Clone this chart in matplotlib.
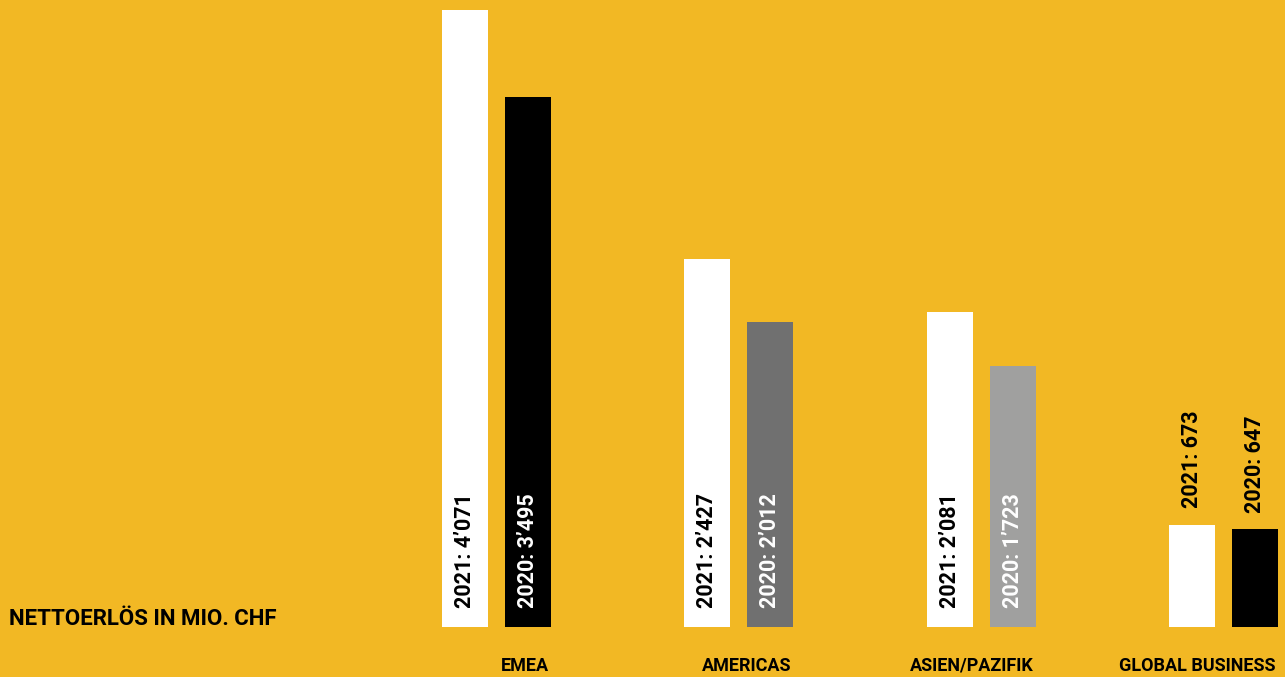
import matplotlib
matplotlib.use("Agg")
import matplotlib.pyplot as plt
from matplotlib import transforms

categories = ["EMEA", "AMERICAS", "ASIEN/PAZIFIK", "GLOBAL BUSINESS"]
values_2021 = [4071, 2427, 2081, 673]
values_2020 = [3495, 2012, 1723, 647]
labels_2021 = ["2021: 4’071", "2021: 2’427", "2021: 2’081", "2021: 673"]
labels_2020 = ["2020: 3’495", "2020: 2’012", "2020: 1’723", "2020: 647"]
colors_2020 = ["#000000", "#707070", "#a0a09f", "#000000"]
title = "NETTOERLÖS IN MIO. CHF"

BG = "#f2b824"
W, H = 1285, 677
fig = plt.figure(figsize=(W / 100, H / 100), dpi=100, facecolor=BG)
# axes: baseline at y=627px, top (4071) at y=10px, full width
ax = fig.add_axes([0, (H - 627) / H, 1, (627 - 10) / H])
ax.set_facecolor(BG)
ax.set_ylim(0, max(values_2021))
step = 242.25
x0 = 496.5
ax.set_xlim(-x0 / step, (W - x0) / step)
for s in ax.spines.values():
    s.set_visible(False)
ax.set_xticks([])
ax.set_yticks([])

off = 31.5 / step
bw = 46 / step
xs = list(range(len(categories)))
x1 = [x - off for x in xs]
x2 = [x + off for x in xs]
ax.bar(x1, values_2021, width=bw, color="white", zorder=2)
ax.bar(x2, values_2020, width=bw, color=colors_2020, zorder=2)

font = dict(family=["Roboto", "DejaVu Sans"], fontweight="bold")
pix_up = lambda px: transforms.offset_copy(ax.transData, fig=fig, x=0, y=px * 72 / 100, units="points")

for i in xs:
    inside = values_2021[i] > 1000
    if inside:
        ax.text(x1[i], 0, labels_2021[i], rotation=90, ha="center", va="bottom",
                color="black", fontsize=15.5, transform=pix_up(19), zorder=3, **font)
        ax.text(x2[i], 0, labels_2020[i], rotation=90, ha="center", va="bottom",
                color="white", fontsize=15.5, transform=pix_up(19), zorder=3, **font)
    else:
        ax.text(x1[i], values_2021[i], labels_2021[i], rotation=90, ha="center", va="bottom",
                color="black", fontsize=15.5, transform=pix_up(17), zorder=3, **font)
        ax.text(x2[i], values_2020[i], labels_2020[i], rotation=90, ha="center", va="bottom",
                color="black", fontsize=15.5, transform=pix_up(16), zorder=3, **font)
    # category label right-aligned to right edge of 2020 bar
    ax.text(x2[i] + bw / 2 - 2 / step, 0, categories[i], ha="right", va="center",
            fontsize=13, color="black", transform=pix_up(-39), **font)

fig.text(9 / W, 1 - 619 / H, title, ha="left", va="center", fontsize=16,
         color="black", **font)

fig.savefig("out.png", dpi=100, facecolor=BG)
